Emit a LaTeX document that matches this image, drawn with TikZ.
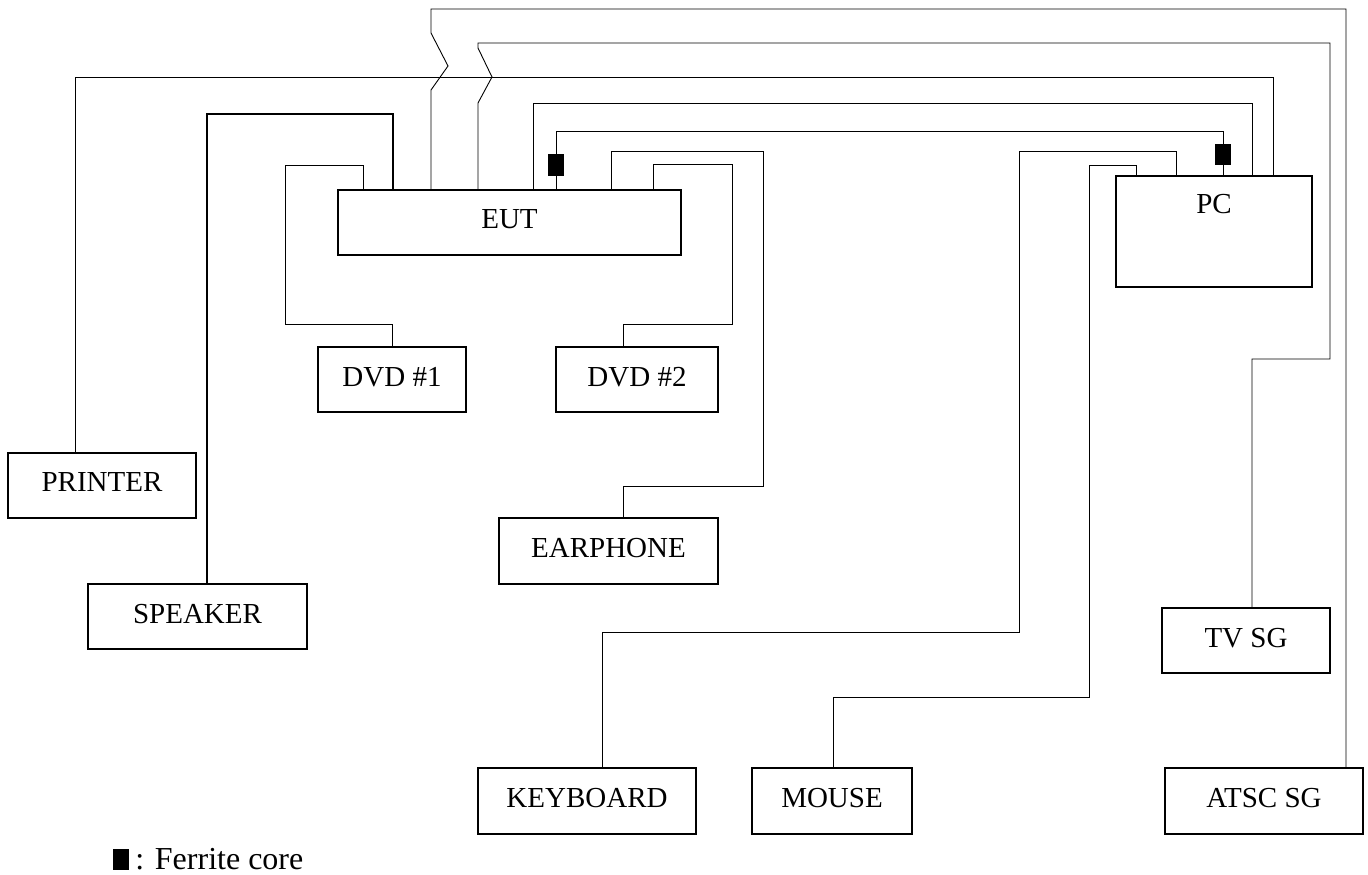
\documentclass[tikz,border=0pt]{standalone}
\usepackage{fontspec}
\setmainfont{Liberation Serif}
\usetikzlibrary{positioning}
\newcommand{\devfont}{\fontsize{29}{34}\selectfont}

\begin{document}
\begin{tikzpicture}[
  x=1pt, y=-1pt,
  devbox/.style={rectangle, draw, line width=1.6pt, inner sep=0pt, text depth=6pt, font=\devfont},
  cable/.style={line width=0.9pt},
  heavy/.style={line width=1.8pt},
  ferrite/.style={rectangle, fill=black, inner sep=0pt, minimum width=16pt, minimum height=22pt}
]
\useasboundingbox (0,0) rectangle (1368,875);

% equipment
\node[devbox, minimum width=343, minimum height=65] (eut) at (509.5,222.5) {EUT};
\node[devbox, minimum width=196, minimum height=111,
      label={[font=\devfont, anchor=north, inner sep=0pt, yshift=-19pt]north:PC}] (pc) at (1214,231.5) {};
\node[devbox, minimum width=148, minimum height=65] (dvda) at (392,379.5) {DVD \#1};
\node[devbox, minimum width=162, minimum height=65] (dvdb) at (637,379.5) {DVD \#2};
\node[devbox, minimum width=188, minimum height=65] (printer) at (102,485.5) {PRINTER};
\node[devbox, minimum width=219, minimum height=65] (speaker) at (197.5,616.5) {SPEAKER};
\node[devbox, minimum width=219, minimum height=66] (earphone) at (608.5,551) {EARPHONE};
\node[devbox, minimum width=218, minimum height=66] (keyboard) at (587,801) {KEYBOARD};
\node[devbox, minimum width=160, minimum height=66] (mouse) at (832,801) {MOUSE};
\node[devbox, minimum width=168, minimum height=65] (tvsg) at (1246,640.5) {TV SG};
\node[devbox, minimum width=198, minimum height=66] (atscsg) at (1264,801) {ATSC SG};

% cables
\draw[cable] ([xshift=-27pt]printer.north) |- (75,77) -| ([xshift=59pt]pc.north);
\draw[heavy] ([xshift=9.5pt]speaker.north) |- (393,114) -- ([xshift=-116.5pt]eut.north);
\draw[cable] ([xshift=-146.5pt]eut.north) |- (285,165) |- (392,324) -- (dvda.north);
\draw[cable] ([xshift=-78.5pt]eut.north) -- (431,90) -- (448,66) -- (431,33) |- (1346,9) -- ([xshift=82pt]atscsg.north);
\draw[cable] ([xshift=-31.5pt]eut.north) -- (478,103) -- (492,77) -- (478,48) |- (1330,43) |- (1252,359) -- ([xshift=6pt]tvsg.north);
\draw[cable] ([xshift=23.5pt]eut.north) |- (1252,103) -- ([xshift=38pt]pc.north);
\draw[cable] ([xshift=46.5pt]eut.north) |- (1223,131) -- ([xshift=9pt]pc.north);
\draw[cable] ([xshift=101.5pt]eut.north) |- (763,151) |- (623,486) -- ([xshift=14.5pt]earphone.north);
\draw[cable] ([xshift=143.5pt]eut.north) |- (732,164) |- (623,324) -- ([xshift=-14pt]dvdb.north);
\draw[cable] ([xshift=-38pt]pc.north) |- (1019,151) |- (602,632) -- ([xshift=15pt]keyboard.north);
\draw[cable] ([xshift=-78pt]pc.north) |- (1089,165) |- (833,697) -- ([xshift=1pt]mouse.north);

% ferrite cores
\node[ferrite] (fc1) at (556,165) {};
\node[ferrite, minimum height=21pt] (fc2) at (1223,154.5) {};

% legend
\node[ferrite, minimum height=21pt] (legcore) at (121,859.5) {};
\node[right=6pt of legcore, inner sep=0pt, font=\fontsize{32}{38}\selectfont] (legtext) {: Ferrite core};
\end{tikzpicture}
\end{document}
